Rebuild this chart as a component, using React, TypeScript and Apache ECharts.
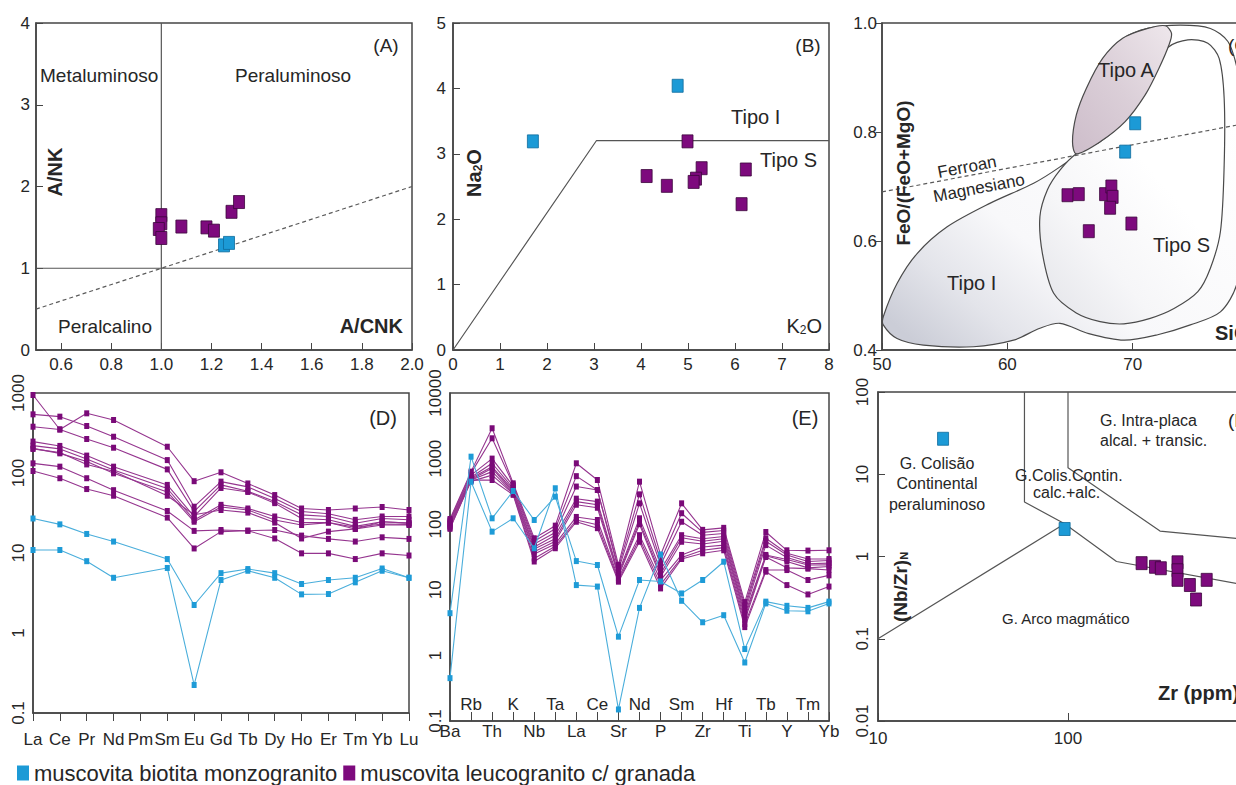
import React, { useEffect, useRef } from 'react';
import * as echarts from 'echarts';

const FONT = '"Liberation Sans", Arial, Helvetica, sans-serif';
const BLUE_NAME = 'muscovita biotita monzogranito';
const PURPLE_NAME = 'muscovita leucogranito c/ granada';

// ---------- Panel A ----------
const A_XTICKS = [0.6, 0.8, 1.0, 1.2, 1.4, 1.6, 1.8, 2.0];
const A_VLINE = [[1, 0], [1, 4]];
const A_HLINE = [[0.5, 1], [2, 1]];
const A_DASH = [[0.5, 0.5], [2, 2]];
const A_BLUE = [[1.25, 1.28], [1.27, 1.31]];
const A_PURPLE = [[1.0, 1.65], [1.0, 1.55], [0.99, 1.48], [1.0, 1.37], [1.08, 1.51], [1.18, 1.5], [1.21, 1.46], [1.28, 1.69], [1.31, 1.81]];

// ---------- Panel B ----------
const B_BOUNDARY = [[0, 0], [3.05, 3.2], [8, 3.2]];
const B_BLUE = [[1.7, 3.19], [4.78, 4.04]];
const B_PURPLE = [[4.99, 3.19], [4.12, 2.66], [4.55, 2.51], [5.29, 2.78], [5.17, 2.62], [5.12, 2.57], [6.23, 2.76], [6.14, 2.23]];

// ---------- Panel C ----------
const C_TIPO_I = [
  [50.1, 0.461], [51.2, 0.522], [52.8, 0.577], [55.2, 0.626], [58.6, 0.669], [62.1, 0.706], [64.2, 0.736], [65.5, 0.76],
  [65.3, 0.782], [65.6, 0.831], [66.4, 0.88], [67.7, 0.935], [69.3, 0.972], [71.2, 0.99], [73.8, 0.996], [76.2, 0.99], [77.6, 0.966],
  [78.3, 0.92], [78.8, 0.85], [79.0, 0.75], [78.9, 0.62], [78.3, 0.52], [77, 0.47], [74.6, 0.446], [72, 0.428], [69.3, 0.418],
  [66.5, 0.43], [64.2, 0.449], [62.6, 0.44], [60.5, 0.418], [57.3, 0.406], [53.3, 0.409], [51.2, 0.421], [50.1, 0.446],
];
const C_TIPO_S = [
  [65.5, 0.76], [67.4, 0.782], [69.3, 0.819], [70.9, 0.868], [72.0, 0.917], [72.8, 0.955], [74.4, 0.969], [76.0, 0.963],
  [76.9, 0.935], [77.3, 0.862], [77.3, 0.739], [77.0, 0.617], [76.2, 0.55], [75.2, 0.507], [73.3, 0.476], [71.4, 0.458],
  [69.3, 0.448], [67.4, 0.452], [65.5, 0.468], [63.7, 0.504], [62.8, 0.577], [62.6, 0.645], [63.2, 0.694], [64.2, 0.73],
];
const C_TIPO_A = [
  [65.5, 0.76], [65.2, 0.782], [65.5, 0.831], [66.3, 0.88], [67.6, 0.935], [69.2, 0.972], [71.2, 0.99], [72.6, 0.995],
  [73.1, 0.981], [72.9, 0.96], [72.1, 0.917], [71.0, 0.868], [69.4, 0.819], [67.4, 0.782],
];
const C_DASH = [[50, 0.69], [80, 0.82]];
const C_BLUE = [[70.2, 0.816], [69.4, 0.764]];
const C_PURPLE = [[64.8, 0.684], [65.7, 0.686], [66.5, 0.618], [67.8, 0.686], [68.3, 0.7], [68.4, 0.681], [68.2, 0.661], [69.9, 0.632]];

// ---------- Panel D (REE) ----------
const D_CATS = ['La', 'Ce', 'Pr', 'Nd', 'Pm', 'Sm', 'Eu', 'Gd', 'Tb', 'Dy', 'Ho', 'Er', 'Tm', 'Yb', 'Lu'];
const D_PURPLE = [
  [944, 350, 557, 460, null, 213, 79, 102, 74, 53, 36, 34.5, 36, 37.6, 34.5],
  [541, 506, 387, 284, null, 145, 37.9, 78, 67, 48, 33, 31, 26, 28.6, 28.6],
  [379, 350, 266, 207, null, 111, 33, 71, 59, 44, 30, 28.6, 23.6, 27, 26],
  [247, 218, 165, 120, null, 71, 28.6, 65, 58, 42, 27, 26, 21.5, 24.6, 23.6],
  [220, 200, 150, 109, null, 64, 25.9, 40, 36, 28.6, 24, 24, 20, 22.4, 22.4],
  [203, 176, 139, 99, null, 58, 24.6, 37.6, 34.5, 25.9, 22.4, 24, 21, 23, 22.8],
  [200, 180, 128, 105, null, 52, 30, 34.5, 32, 24, 15.2, 18.5, 20, 24.6, 23.6],
  [132, 120, 86, 61, null, 33.5, 18.9, 19.4, 19, 19.4, 16.5, 15, 13.9, 15.7, 15],
  [106, 86, 63, 52, null, 27.7, 11.4, 18.5, 19, 15.2, 9.9, 9.9, 8.4, 9.9, 9.3],
];
const D_BLUE = [
  [27, 22.8, 17.3, 13.9, null, 8.4, 2.24, 5.6, 6.3, 5.6, 4.1, 4.6, 4.9, 6.4, 4.9],
  [10.9, 10.9, 7.9, 4.9, null, 6.5, 0.224, 4.6, 6.0, 4.9, 3.04, 3.07, 4.3, 6.0, 4.9],
];

// ---------- Panel E (spider) ----------
const E_CATS = ['Ba', 'Rb', 'Th', 'K', 'Nb', 'Ta', 'La', 'Ce', 'Sr', 'Nd', 'P', 'Sm', 'Zr', 'Hf', 'Ti', 'Tb', 'Y', 'Tm', 'Yb'];
const E_PURPLE = [
  [120, 633, 2900, 420, 61, 95, 848, 472, 24, 445, 34, 208, 82, 88, 6.5, 76, 40, 39.6, 40],
  [115, 600, 2040, 400, 55, 85, 540, 332, 22, 285, 28, 147, 75, 80, 5.8, 61, 36, 29.5, 29.5],
  [110, 560, 1000, 380, 50, 75, 375, 332, 20, 208, 23.9, 109, 68, 72, 5.2, 55, 34, 27, 28],
  [105, 520, 850, 350, 45, 68, 245, 221, 18, 123, 20, 68, 60, 65, 4.6, 48, 31, 25, 25.5],
  [100, 500, 750, 330, 42, 60, 221, 198, 17, 109, 17.5, 62, 55, 60, 4.2, 34, 29, 23.9, 24],
  [95, 480, 711, 310, 38, 55, 198, 178, 16, 100, 15.8, 54, 50, 55, 3.8, 33, 27, 21.6, 22.6],
  [92, 470, 633, 300, 35, 50, 129, 116, 15, 68, 14, 34, 45, 48, 3.4, 31.6, 21.6, 21, 20],
  [88, 450, 560, 290, 30, 46, 116, 98, 14, 60, 12, 31, 40, 44, 3.0, 20, 20, 14.1, 16.6],
  [85, 470, 472, 280, 27, 43, 109, 87, 13.3, 54, 10.5, 29.5, 36, 40, 2.7, 18.9, 11.8, 8.5, 11.2],
];
const E_BLUE = [
  [4.4, 1070, 123, 321, 116, 263, 27.4, 23.9, 1.93, 14.1, 13.4, 8.8, 14.1, 26.8, 1.25, 6.6, 5.7, 5.3, 6.6],
  [0.45, 445, 77, 123, 43, 353, 11.8, 11.2, 0.15, 5.3, 34.5, 6.8, 3.2, 4.1, 0.78, 6.2, 4.8, 4.7, 6.2],
];

// ---------- Panel F ----------
const F_LINE1 = [[10, 0.1], [96, 2.5]];
const F_LINE2 = [[59, 100], [59, 4.6], [96, 2.5], [180, 0.87], [1000, 0.42]];
const F_LINE3 = [[100, 100], [100, 12], [305, 2.04], [1000, 1.56]];
const F_BLUE = [[22, 27], [96, 2.16]];
const F_PURPLE = [[244, 0.83], [287, 0.75], [308, 0.72], [377, 0.85], [377, 0.68], [377, 0.52], [438, 0.45], [472, 0.3], [537, 0.52]];

// ---------- styles ----------
const BLUE = '#1c9ad6';
const BLUE_EDGE = '#0f6c9c';
const PURPLE = '#7d0a7d';
const PURPLE_EDGE = '#3c063c';
const BLUE_LINE = '#4aaedb';
const PURPLE_LINE = '#95358f';
const FRAME = '#454545';
const TXT = '#262626';

const tickLabel = { fontSize: 17, color: TXT, fontFamily: FONT };

function logFmt(v: number) {
  if (v < 0.011) return '0.01';
  if (v < 0.11) return '0.1';
  return String(Math.round(v));
}

function label(text: string, x: number, y: number, o: any = {}) {
  const size = o.size || 19;
  const weight = o.bold ? 'bold' : 'normal';
  return {
    type: 'text', x, y, rotation: o.rot || 0, silent: true, z: 100,
    style: {
      text, fill: TXT, fontSize: size, fontWeight: weight, fontFamily: FONT,
      align: o.align || 'left', verticalAlign: 'middle',
      textAlign: o.align || 'left', textVerticalAlign: 'middle',
      rich: {
        s: { fontSize: Math.round(size * 0.6), fontWeight: weight, fontFamily: FONT, fill: TXT, verticalAlign: 'bottom' },
      },
    },
  };
}

function scatter(name: string, data: number[][], xi: number, yi: number, blue: boolean) {
  return {
    type: 'scatter', name, data, xAxisIndex: xi, yAxisIndex: yi, symbol: 'rect', symbolSize: [11, 13], z: 5,
    itemStyle: { color: blue ? BLUE : PURPLE, borderColor: blue ? BLUE_EDGE : PURPLE_EDGE, borderWidth: 0.8, opacity: 1 },
    emphasis: { disabled: true },
  };
}

function boundary(data: number[][], xi: number, yi: number, dashed = false) {
  return {
    type: 'line', data, xAxisIndex: xi, yAxisIndex: yi, symbol: 'none', silent: true, z: 2,
    lineStyle: { color: dashed ? '#5a5a5a' : '#555', width: 1.2, type: dashed ? [4, 3] : 'solid' },
    emphasis: { disabled: true },
  };
}

function spider(name: string, data: any[], xi: number, yi: number, blue: boolean) {
  return {
    type: 'line', name, data, xAxisIndex: xi, yAxisIndex: yi, connectNulls: true,
    symbol: 'rect', symbolSize: [5, 6], showAllSymbol: true, z: blue ? 4 : 3,
    lineStyle: { color: blue ? BLUE_LINE : PURPLE_LINE, width: 1.1 },
    itemStyle: { color: blue ? '#1e9bd7' : '#7a0a78', borderWidth: 0 },
    emphasis: { disabled: true },
  };
}

function region(points: number[][], fill: any) {
  return {
    type: 'custom', xAxisIndex: 2, yAxisIndex: 2, silent: true, z: 1,
    data: [points[0]],
    renderItem: (_p: any, api: any) => ({
      type: 'polygon',
      shape: { points: points.map((p) => api.coord(p)), smooth: 0.3 },
      style: { fill, stroke: '#4a4a4a', lineWidth: 1.2 },
    }),
  };
}

function grad(x: number, y: number, x2: number, y2: number, stops: [number, string][]) {
  return { type: 'linear', x, y, x2, y2, colorStops: stops.map(([offset, color]) => ({ offset, color })) };
}

const gridBase = { show: true, borderColor: FRAME, borderWidth: 1.5, backgroundColor: 'transparent', containLabel: false, outerBoundsMode: 'none' };
const noSplit = { show: false };
const line = { show: true, lineStyle: { color: FRAME, width: 1.5 } };

function buildOption() {
  const grids = [
    { ...gridBase, left: 36, top: 23, width: 376, height: 327 },
    { ...gridBase, left: 453, top: 23, width: 376, height: 327 },
    { ...gridBase, left: 882, top: 23, width: 376, height: 327 },
    { ...gridBase, left: 33, top: 393, width: 376, height: 320 },
    { ...gridBase, left: 450, top: 393, width: 379, height: 328 },
    { ...gridBase, left: 878, top: 392, width: 380, height: 329 },
  ];
  const xAxes: any[] = [
    {
      gridIndex: 0, type: 'value', min: 0.5, max: 2.0, axisLine: line, splitLine: noSplit,
      axisTick: { inside: true, length: 7, customValues: A_XTICKS, lineStyle: { color: FRAME } },
      axisLabel: { ...tickLabel, customValues: A_XTICKS, margin: 6, formatter: (v: number) => v.toFixed(1) },
    },
    {
      gridIndex: 1, type: 'value', min: 0, max: 8, interval: 1, axisLine: line, splitLine: noSplit,
      axisTick: { inside: true, length: 7, lineStyle: { color: FRAME } }, axisLabel: { ...tickLabel, margin: 6 },
    },
    {
      gridIndex: 2, type: 'value', min: 50, max: 80, interval: 10, axisLine: line, splitLine: noSplit,
      axisTick: { inside: true, length: 7, lineStyle: { color: FRAME } }, axisLabel: { ...tickLabel, margin: 6 },
    },
    {
      gridIndex: 3, type: 'category', data: D_CATS, boundaryGap: false, axisLine: line, splitLine: noSplit,
      axisTick: { inside: false, length: 8, interval: 0, lineStyle: { color: FRAME } },
      axisLabel: { ...tickLabel, interval: 0, margin: 18 },
    },
    {
      gridIndex: 4, type: 'category', data: E_CATS, boundaryGap: false, position: 'bottom', axisLine: line, splitLine: noSplit,
      axisTick: { inside: true, length: 9, interval: 0, lineStyle: { color: FRAME } },
      axisLabel: { ...tickLabel, margin: 2, interval: (i: number) => i % 2 === 0 },
    },
    {
      gridIndex: 4, type: 'category', data: E_CATS, boundaryGap: false, position: 'bottom',
      axisLine: { show: false }, axisTick: { show: false }, splitLine: noSplit,
      axisLabel: { ...tickLabel, inside: true, margin: 8, interval: (i: number) => i % 2 === 1 },
    },
    {
      gridIndex: 5, type: 'log', logBase: 10, min: 10, max: 1000, axisLine: line, splitLine: noSplit,
      axisTick: { inside: true, length: 8, lineStyle: { color: FRAME } }, minorTick: { show: false },
      axisLabel: { ...tickLabel, margin: 9, formatter: logFmt },
    },
  ];
  const yAxes: any[] = [
    {
      gridIndex: 0, type: 'value', min: 0, max: 4, interval: 1, axisLine: line, splitLine: noSplit,
      axisTick: { inside: true, length: 7, lineStyle: { color: FRAME } }, axisLabel: { ...tickLabel, margin: 6 },
    },
    {
      gridIndex: 1, type: 'value', min: 0, max: 5, interval: 1, axisLine: line, splitLine: noSplit,
      axisTick: { inside: true, length: 7, lineStyle: { color: FRAME } }, axisLabel: { ...tickLabel, margin: 7 },
    },
    {
      gridIndex: 2, type: 'value', min: 0.4, max: 1.0, interval: 0.2, axisLine: line, splitLine: noSplit,
      axisTick: { inside: false, length: 6, lineStyle: { color: FRAME } },
      axisLabel: { ...tickLabel, margin: 5, formatter: (v: number) => v.toFixed(1) },
    },
    {
      gridIndex: 3, type: 'log', logBase: 10, min: 0.1, max: 1000, axisLine: line, splitLine: noSplit,
      axisTick: { inside: false, length: 5, lineStyle: { color: FRAME } }, minorTick: { show: false },
      axisLabel: { ...tickLabel, rotate: 90, margin: 6, formatter: logFmt },
    },
    {
      gridIndex: 4, type: 'log', logBase: 10, min: 0.1, max: 10000, axisLine: line, splitLine: noSplit,
      axisTick: { inside: false, length: 5, lineStyle: { color: FRAME } }, minorTick: { show: false },
      axisLabel: { ...tickLabel, rotate: 90, margin: 6, formatter: logFmt },
    },
    {
      gridIndex: 5, type: 'log', logBase: 10, min: 0.01, max: 100, axisLine: line, splitLine: noSplit,
      axisTick: { inside: true, length: 7, lineStyle: { color: FRAME } }, minorTick: { show: false },
      axisLabel: { ...tickLabel, rotate: 90, margin: 7, formatter: logFmt },
    },
  ];

  const series: any[] = [
    // A
    boundary(A_VLINE, 0, 0), boundary(A_HLINE, 0, 0), boundary(A_DASH, 0, 0, true),
    scatter(PURPLE_NAME, A_PURPLE, 0, 0, false), scatter(BLUE_NAME, A_BLUE, 0, 0, true),
    // B
    boundary(B_BOUNDARY, 1, 1),
    scatter(PURPLE_NAME, B_PURPLE, 1, 1, false), scatter(BLUE_NAME, B_BLUE, 1, 1, true),
    // C
    region(C_TIPO_I, grad(0, 0.9, 0.75, 0.1, [[0, '#cbcdd7'], [0.18, '#e3e4ea'], [0.4, '#f8f8fa'], [1, '#ffffff']])),
    region(C_TIPO_S, grad(0, 1, 0.7, 0.1, [[0, '#e2e3e8'], [0.35, '#f6f6f8'], [0.7, '#ffffff'], [1, '#ffffff']])),
    region(C_TIPO_A, grad(0, 1, 1, 0, [[0, '#cdbdca'], [0.5, '#dbcfd8'], [1, '#eee7ec']])),
    boundary(C_DASH, 2, 2, true),
    scatter(PURPLE_NAME, C_PURPLE, 2, 2, false), scatter(BLUE_NAME, C_BLUE, 2, 2, true),
    // F
    boundary(F_LINE1, 6, 5), boundary(F_LINE2, 6, 5), boundary(F_LINE3, 6, 5),
    scatter(PURPLE_NAME, F_PURPLE, 6, 5, false), scatter(BLUE_NAME, F_BLUE, 6, 5, true),
  ];
  D_PURPLE.forEach((d) => series.push(spider(PURPLE_NAME, d, 3, 3, false)));
  D_BLUE.forEach((d) => series.push(spider(BLUE_NAME, d, 3, 3, true)));
  E_PURPLE.forEach((d) => series.push(spider(PURPLE_NAME, d, 4, 4, false)));
  E_BLUE.forEach((d) => series.push(spider(BLUE_NAME, d, 4, 4, true)));

  const R = Math.PI / 2;
  const tilt = 0.19;
  const graphic = [
    // A
    label('(A)', 386, 45, { align: 'center' }),
    label('Metaluminoso', 40, 75),
    label('Peraluminoso', 235, 75),
    label('Peralcalino', 58, 326),
    label('A/CNK', 403, 326, { bold: true, size: 20, align: 'right' }),
    label('A/NK', 55, 172, { bold: true, size: 20, align: 'center', rot: R }),
    // B
    label('(B)', 808, 45, { align: 'center' }),
    label('Tipo I', 731, 117, { size: 20 }),
    label('Tipo S', 760, 160, { size: 20 }),
    label('K{s|2}O', 822, 326, { size: 20, align: 'right' }),
    label('Na{s|2}O', 474, 173, { bold: true, size: 20, align: 'center', rot: R }),
    // C
    label('Tipo A', 1098, 70, { size: 20 }),
    label('Tipo S', 1153, 245, { size: 20 }),
    label('Tipo I', 947, 283, { size: 20 }),
    label('Ferroan', 967, 167, { size: 17, align: 'center', rot: tilt }),
    label('Magnesiano', 979, 188, { size: 17, align: 'center', rot: tilt }),
    label('FeO/(FeO+MgO)', 903, 173, { bold: true, size: 19, align: 'center', rot: R }),
    label('(C)', 1228, 45),
    label('SiO{s|2}', 1215, 333, { bold: true, size: 20 }),
    // D, E
    label('(D)', 383, 418, { align: 'center', size: 20 }),
    label('(E)', 805, 418, { align: 'center', size: 20 }),
    // F
    label('(F)', 1228, 420),
    label('G. Intra-placa', 1100, 420, { size: 16 }),
    label('alcal. + transic.', 1100, 440, { size: 16 }),
    label('G. Colisão', 937, 463, { size: 16, align: 'center' }),
    label('Continental', 937, 483, { size: 16, align: 'center' }),
    label('peraluminoso', 937, 504, { size: 16, align: 'center' }),
    label('G.Colis.Contin.', 1015, 475, { size: 16 }),
    label('calc.+alc.', 1033, 492, { size: 16 }),
    label('G. Arco magmático', 1002, 618, { size: 15 }),
    label('Zr (ppm)', 1158, 693, { bold: true, size: 20 }),
    label('(Nb/Zr){s|N}', 900, 587, { bold: true, size: 19, align: 'center', rot: R }),
  ];

  return {
    animation: false,
    backgroundColor: '#ffffff',
    textStyle: { fontFamily: FONT },
    grid: grids,
    xAxis: xAxes,
    yAxis: yAxes,
    series,
    graphic,
    legend: {
      left: 12, top: 757, itemWidth: 12, itemHeight: 15, itemGap: 6, selectedMode: false,
      textStyle: { fontSize: 22, color: TXT, fontFamily: FONT },
      data: [
        { name: BLUE_NAME, icon: 'rect', itemStyle: { color: BLUE, borderWidth: 0 } },
        { name: PURPLE_NAME, icon: 'rect', itemStyle: { color: PURPLE, borderWidth: 0 } },
      ],
    },
  };
}

export default function App() {
  const ref = useRef<HTMLDivElement>(null);
  useEffect(() => {
    if (!ref.current) return;
    const chart = echarts.init(ref.current, undefined, { renderer: 'svg' });
    chart.setOption(buildOption() as any);
    return () => chart.dispose();
  }, []);
  return <div ref={ref} style={{ position: 'absolute', left: 0, top: 0, width: 1236, height: 785, background: '#fff' }} />;
}
